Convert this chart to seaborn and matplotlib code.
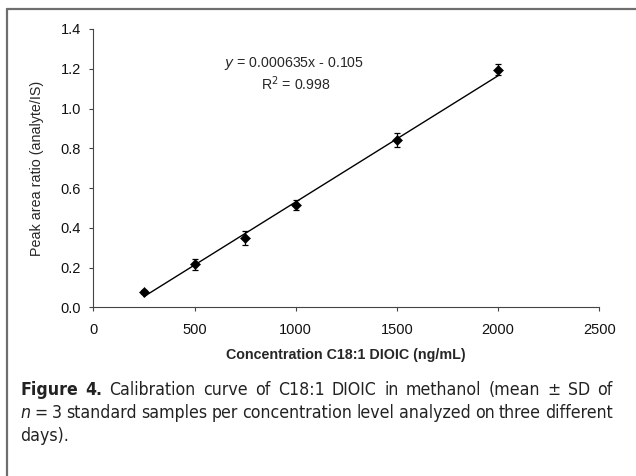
import numpy as np
import pandas as pd
import matplotlib
matplotlib.use("Agg")
import matplotlib.pyplot as plt
import seaborn as sns
from matplotlib.lines import Line2D
from matplotlib import font_manager as fm

# calibration data
conc = [250, 500, 750, 1000, 1500, 2000]
ratio = [0.078, 0.216, 0.350, 0.515, 0.840, 1.195]
sd = [0.010, 0.028, 0.036, 0.026, 0.035, 0.027]
slope = 0.000635
intercept = -0.105

x_ticks = [0, 500, 1000, 1500, 2000, 2500]
y_ticks = [0.0, 0.2, 0.4, 0.6, 0.8, 1.0, 1.2, 1.4]

sns.set_style("ticks")
plt.rcParams['font.family'] = ['Liberation Sans', 'DejaVu Sans']

W, H = 636, 476
df = pd.DataFrame({'conc': conc, 'ratio': ratio, 'sd': sd})
fit = pd.DataFrame({'conc': [conc[0], conc[-1]]})
fit['ratio'] = slope * fit['conc'] + intercept

fig = plt.figure(figsize=(W / 100, H / 100), dpi=100)
ax = fig.add_axes([93.3 / W, 1 - 307.3 / H, 506 / W, 278.3 / H])

# fitted line
sns.lineplot(data=fit, x='conc', y='ratio', color='black', lw=1.0, ax=ax)
# error bars + markers
ax.errorbar(df['conc'], df['ratio'], yerr=df['sd'], fmt='none',
            ecolor='black', elinewidth=0.9, capsize=1.9, capthick=0.9)
sns.scatterplot(data=df, x='conc', y='ratio', marker='D', s=26,
                color='black', edgecolor='black', ax=ax, zorder=5)

ax.set_xlim(0, 2500)
ax.set_ylim(0, 1.4)
ax.set_xticks(x_ticks)
ax.set_yticks(y_ticks)
ax.set_yticklabels([f"{v:.1f}" for v in y_ticks])
ax.tick_params(labelsize=10.5, length=3, width=0.8, color='#444444',
               labelcolor='#111111')
ax.tick_params(axis='y', pad=6)
ax.tick_params(axis='x', pad=8)
for s in ['left', 'bottom']:
    ax.spines[s].set_linewidth(0.8)
    ax.spines[s].set_color('#444444')
sns.despine(ax=ax)

ax.set_xlabel('Concentration C18:1 DIOIC (ng/mL)', fontsize=10.3,
              fontweight='bold', labelpad=8)
ax.set_ylabel('Peak area ratio (analyte/IS)', fontsize=10.3, labelpad=12)

ax.text(990, 1.227, r'$\it{y}$ = 0.000635x - 0.105', ha='center',
        va='center', fontsize=10.2)
ax.text(1000, 1.127, r'R$^2$ = 0.998', ha='center', va='center',
        fontsize=10.2)

# frame lines (top and left) around the figure panel
fig.add_artist(Line2D([7 / W, 1.0], [1 - 9 / H, 1 - 9 / H],
                      color='#6e6e6e', lw=1.6, transform=fig.transFigure))
fig.add_artist(Line2D([7 / W, 7 / W], [0.0, 1 - 9 / H],
                      color='#6e6e6e', lw=1.6, transform=fig.transFigure))

# caption: look for a condensed sans, else fall back
cap_family = ['Liberation Sans', 'DejaVu Sans']
cap_stretch = 'normal'
for f in fm.fontManager.ttflist:
    if 'Narrow' in f.name or 'Condensed' in f.name:
        cap_family = [f.name, 'DejaVu Sans']
        break
    if f.stretch in ('condensed', 'semi-condensed') and f.name in (
            'DejaVu Sans', 'Noto Sans', 'Open Sans', 'Roboto'):
        cap_family = [f.name, 'DejaVu Sans']
        cap_stretch = f.stretch
        break

fs = 12.7
cap_col = '#222222'


def place_line(words, y_px, x0, x1, justify=True):
    texts = [fig.text(x0 / W, 1 - y_px / H, w, fontsize=fs,
                      family=cap_family, fontstretch=cap_stretch,
                      color=cap_col, **kw) for w, kw in words]
    fig.canvas.draw()
    r = fig.canvas.get_renderer()
    widths = [t.get_window_extent(r).width for t in texts]
    space = fs * 100 / 72 * 0.24
    if justify and len(texts) > 1:
        gap = (x1 - x0 - sum(widths)) / (len(texts) - 1)
    else:
        gap = space
    x = x0
    for t, w in zip(texts, widths):
        t.set_x(x / W)
        x += w + gap


line1 = [('Figure', {'weight': 'bold'}), ('4.', {'weight': 'bold'})] + \
    [(w, {}) for w in 'Calibration curve of C18:1 DIOIC in methanol (mean \u00b1 SD of'.split()]
line2 = [('n', {'style': 'italic'})] + \
    [(w, {}) for w in '= 3 standard samples per concentration level analyzed on three different'.split()]
line3 = [('days).', {})]

place_line(line1, 395, 20, 613)
place_line(line2, 418, 20, 613)
place_line(line3, 441, 20, 613, justify=False)

fig.savefig('out.png', dpi=100)
